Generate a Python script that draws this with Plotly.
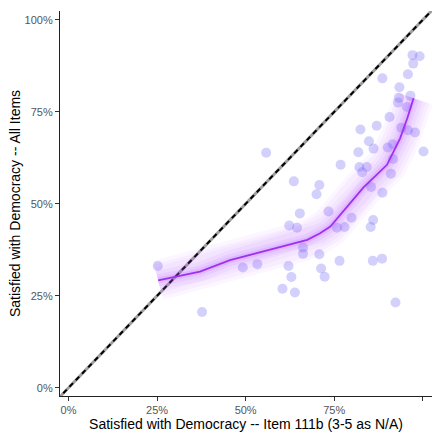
import plotly.graph_objects as go

# country-level shares
item_111b = [0.971, 0.991, 0.973, 0.958, 0.886, 0.934, 0.965, 0.933, 0.930, 0.955,
             0.906, 0.870, 0.824, 0.939, 0.958, 0.978, 0.848, 0.861, 0.915, 0.901,
             0.818, 1.002, 0.558, 0.768, 0.821, 0.842, 0.829, 0.916, 0.910, 0.636,
             0.708, 0.700, 0.854, 0.886, 0.653, 0.734, 0.799, 0.623, 0.645, 0.758,
             0.779, 0.860, 0.853, 0.662, 0.662, 0.708, 0.492, 0.533, 0.621, 0.765,
             0.859, 0.885, 0.713, 0.629, 0.723, 0.604, 0.639, 0.923, 0.377, 0.252]
all_items = [0.904, 0.901, 0.881, 0.852, 0.841, 0.817, 0.794, 0.788, 0.775, 0.763,
             0.736, 0.712, 0.702, 0.707, 0.700, 0.694, 0.670, 0.650, 0.662, 0.653,
             0.640, 0.642, 0.639, 0.606, 0.600, 0.600, 0.586, 0.622, 0.582, 0.561,
             0.551, 0.526, 0.546, 0.530, 0.474, 0.479, 0.462, 0.441, 0.435, 0.435,
             0.437, 0.456, 0.437, 0.381, 0.364, 0.363, 0.327, 0.336, 0.331, 0.345,
             0.345, 0.351, 0.324, 0.301, 0.302, 0.269, 0.259, 0.232, 0.206, 0.331]

# smoothed fit
fit_x = [0.253, 0.371, 0.456, 0.549, 0.597, 0.645, 0.674, 0.710, 0.739,
         0.832, 0.899, 0.936, 0.956, 0.974]
fit_y = [0.292, 0.316, 0.347, 0.371, 0.383, 0.394, 0.402, 0.420, 0.438,
         0.544, 0.606, 0.678, 0.732, 0.787]

ticks = [0, 0.25, 0.5, 0.75, 1.0]
tick_text = ["0%", "25%", "50%", "75%", "100%"]

fig = go.Figure()

# 45 degree reference line
fig.add_trace(go.Scatter(x=[-0.05, 1.05], y=[-0.05, 1.05], mode="lines",
                         line=dict(color="#a0a0a0", width=3),
                         hoverinfo="skip"))
fig.add_trace(go.Scatter(x=[-0.05, 1.05], y=[-0.05, 1.05], mode="lines",
                         line=dict(color="black", width=2, dash="5px,4px"),
                         hoverinfo="skip"))

fig.add_trace(go.Scatter(x=item_111b, y=all_items, mode="markers",
                         marker=dict(size=10, color="rgba(110,100,245,0.3)",
                                     line=dict(width=0)),
                         hoverinfo="x+y"))

# layered glow around the fit line
for w, a in [(40, 0.05), (33, 0.05), (26, 0.06), (19, 0.07), (12, 0.09), (6, 0.14)]:
    fig.add_trace(go.Scatter(x=fit_x, y=fit_y, mode="lines",
                             line=dict(color=f"rgba(180,80,255,{a})", width=w),
                             hoverinfo="skip"))
fig.add_trace(go.Scatter(x=fit_x, y=fit_y, mode="lines",
                         line=dict(color="#a030f0", width=1.8),
                         hoverinfo="skip"))

axis_common = dict(tickvals=ticks, ticktext=tick_text,
                   showgrid=False, zeroline=False, showline=True,
                   linecolor="#222", linewidth=1.1,
                   ticks="outside", ticklen=4, tickcolor="#333",
                   tickfont=dict(family="Liberation Sans, Arial", size=11, color="#555555"))

fig.update_xaxes(**axis_common)
fig.update_yaxes(**axis_common)
fig.update_xaxes(range=[-0.024, 1.026],
                 title=dict(text="Satisfied with Democracy -- Item 111b (3-5 as N/A)",
                            font=dict(family="Liberation Sans, Arial", size=14, color="black"),
                            standoff=3))
fig.update_yaxes(range=[-0.0223, 1.024],
                 title=dict(text="Satisfied with Democracy -- All Items",
                            font=dict(family="Liberation Sans, Arial", size=14, color="black"),
                            standoff=0))

fig.update_layout(width=437, height=434, showlegend=False,
                  plot_bgcolor="white", paper_bgcolor="white",
                  margin=dict(l=60, r=5, t=11, b=33))

fig.write_html("out.html", config={"displayModeBar": False},
               post_script="document.body.style.margin='0';")
